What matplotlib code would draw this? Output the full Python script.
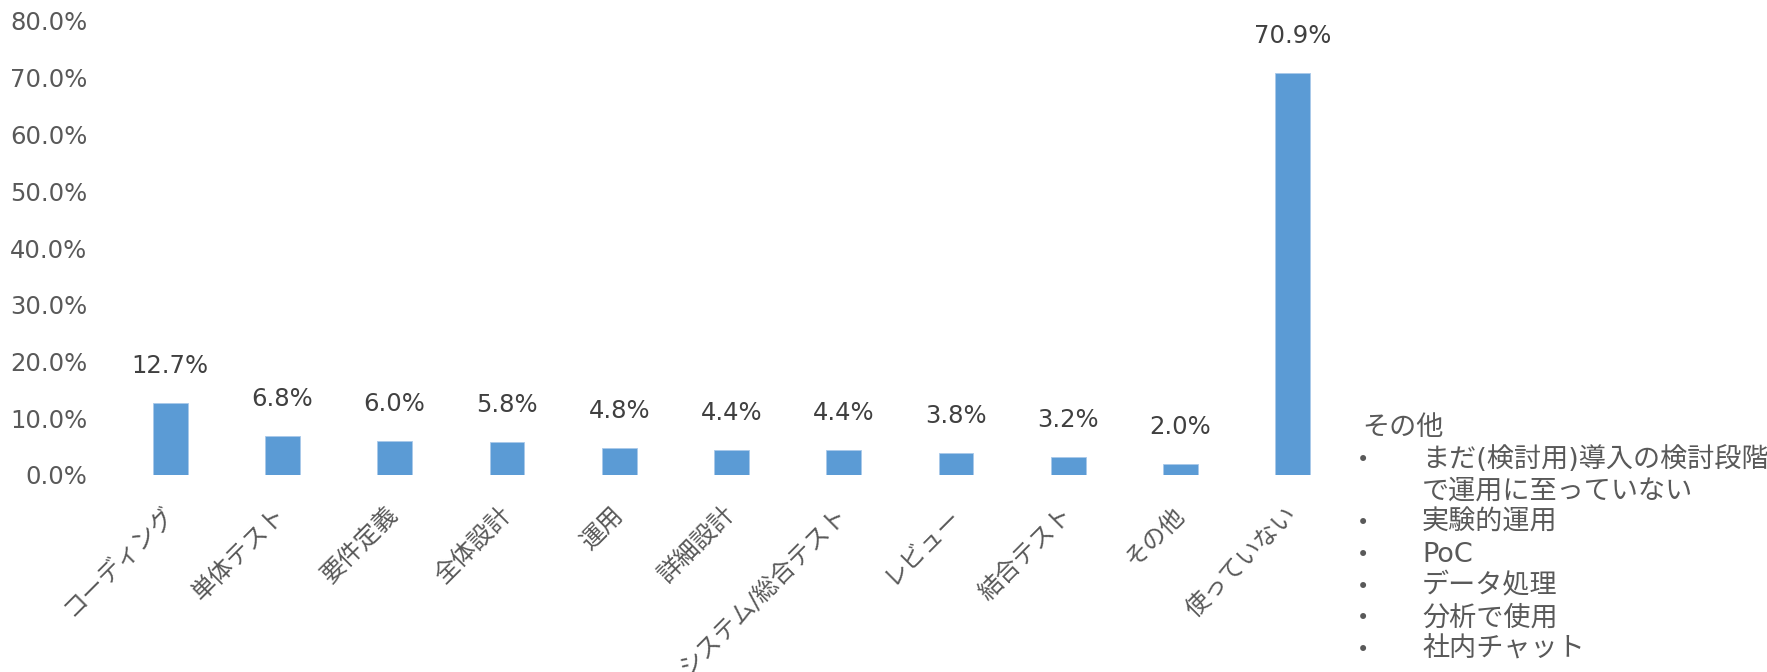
import numpy as np
import matplotlib
matplotlib.use("Agg")
import matplotlib.pyplot as plt

# ==========================================================
# DATA
# ==========================================================

categories = [
    "コーディング", "単体テスト", "要件定義", "全体設計", "運用",
    "詳細設計", "システム/総合テスト", "レビュー", "結合テスト",
    "その他", "使っていない",
]

shares = [12.7, 6.8, 6.0, 5.8, 4.8, 4.4, 4.4, 3.8, 3.2, 2.0, 70.9]

y_ticks = [0, 10, 20, 30, 40, 50, 60, 70, 80]

note_title = "その他"
note_items = [
    ["まだ(検討用)導入の検討段階", "で運用に至っていない"],
    ["実験的運用"],
    ["PoC"],
    ["データ処理"],
    ["分析で使用"],
    ["社内チャット"],
]

# ==========================================================
# STYLE
# ==========================================================

plt.rcParams["font.family"] = ["DejaVu Sans", "Noto Sans CJK JP"]

BAR_COLOR = "#5B9BD5"
AXIS_TEXT = "#595959"
LABEL_TEXT = "#404040"

W, H = 1767, 672

fig = plt.figure(figsize=(W / 100, H / 100), dpi=100)

ax = fig.add_axes([
    114 / W,
    1 - 475 / H,
    (1349 - 114) / W,
    (475 - 21) / H
])

x = np.arange(len(categories))

bars = ax.bar(
    x,
    shares,
    width=0.31,
    color=BAR_COLOR,
    edgecolor="#A9C9EA",
    linewidth=0.6
)

ax.bar_label(
    bars,
    labels=[f"{v:.1f}%" for v in shares],
    padding=18,
    fontsize=17.5,
    color=LABEL_TEXT
)

ax.set_xlim(-0.5, len(categories) - 0.5)
ax.set_ylim(0, 80)

ax.set_yticks(y_ticks)
ax.set_yticklabels([f"{t:.1f}%" for t in y_ticks])

ax.set_xticks(x)
ax.set_xticklabels(
    categories,
    rotation=45,
    ha="right",
    va="center",
    rotation_mode="anchor",
    fontsize=17.5
)

ax.tick_params(axis="y", length=0, pad=19, labelsize=17.5, labelcolor=AXIS_TEXT)
ax.tick_params(axis="x", length=0, pad=26, labelcolor=AXIS_TEXT)

for side in ["top", "right", "left", "bottom"]:
    ax.spines[side].set_visible(False)

# ==========================================================
# NOTE BOX (right side)
# ==========================================================

line_step = 31.7
y_px = 428

fig.text(1362 / W, 1 - y_px / H, note_title,
         fontsize=19.5, color=AXIS_TEXT, va="center", ha="left")

for item in note_items:
    for j, line in enumerate(item):
        y_px += line_step
        if j == 0:
            fig.text(1357 / W, 1 - y_px / H, "•",
                     fontsize=15, color=AXIS_TEXT, va="center", ha="left")
        fig.text(1422 / W, 1 - y_px / H, line,
                 fontsize=19.5, color=AXIS_TEXT, va="center", ha="left")

fig.savefig("out.png", dpi=100)
